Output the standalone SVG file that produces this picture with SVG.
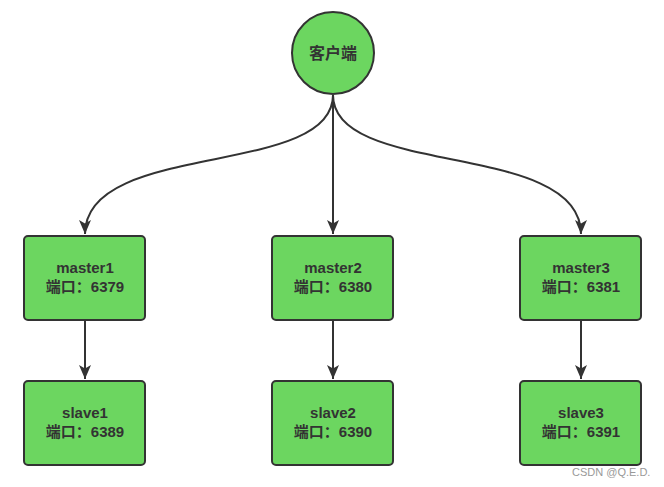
<svg xmlns="http://www.w3.org/2000/svg" width="664" height="487" viewBox="0 0 664 487">
<style>
.n{fill:#6cd660;stroke:#333;stroke-width:2}
.t{font-family:"Liberation Sans","Noto Sans CJK SC",sans-serif;font-size:15px;font-weight:bold;fill:#333;text-anchor:middle}
.c{font-size:16px}
.e{fill:none;stroke:#333;stroke-width:2}
.w{font-family:"Liberation Sans","Noto Sans CJK SC",sans-serif;font-size:11px;fill:#999}
</style>
<defs>
<marker id="a" markerWidth="16" markerHeight="14" refX="14" refY="6" orient="auto" markerUnits="userSpaceOnUse">
<path d="M0,0 L14,6 L0,12 L3.5,6 Z" fill="#333"/>
</marker>
</defs>
<rect width="664" height="487" fill="#fff"/>
<g id="edges">
<path class="e" d="M333,95 C333,178 85,140 85,234" marker-end="url(#a)"/>
<path class="e" d="M333,95 L333,234" marker-end="url(#a)"/>
<path class="e" d="M333,95 C333,178 581,140 581,234" marker-end="url(#a)"/>
<path class="e" d="M85,321 L85,379" marker-end="url(#a)"/>
<path class="e" d="M333,321 L333,379" marker-end="url(#a)"/>
<path class="e" d="M581,321 L581,379" marker-end="url(#a)"/>
</g>
<g id="client">
<circle class="n" cx="333" cy="53" r="41"/>
<text class="t c" x="333" y="59">客户端</text>
</g>
<g id="master1">
<rect class="n" x="24" y="236" width="121" height="84" rx="4"/>
<text class="t" x="85" y="273">master1</text>
<text class="t" x="85" y="292">端口：6379</text>
</g>
<g id="master2">
<rect class="n" x="272" y="236" width="121" height="84" rx="4"/>
<text class="t" x="333" y="273">master2</text>
<text class="t" x="333" y="292">端口：6380</text>
</g>
<g id="master3">
<rect class="n" x="520" y="236" width="121" height="84" rx="4"/>
<text class="t" x="581" y="273">master3</text>
<text class="t" x="581" y="292">端口：6381</text>
</g>
<g id="slave1">
<rect class="n" x="24" y="381" width="121" height="84" rx="4"/>
<text class="t" x="85" y="418">slave1</text>
<text class="t" x="85" y="437">端口：6389</text>
</g>
<g id="slave2">
<rect class="n" x="272" y="381" width="121" height="84" rx="4"/>
<text class="t" x="333" y="418">slave2</text>
<text class="t" x="333" y="437">端口：6390</text>
</g>
<g id="slave3">
<rect class="n" x="520" y="381" width="121" height="84" rx="4"/>
<text class="t" x="581" y="418">slave3</text>
<text class="t" x="581" y="437">端口：6391</text>
</g>
<text class="w" x="572" y="476">CSDN @Q.E.D.</text>
</svg>
